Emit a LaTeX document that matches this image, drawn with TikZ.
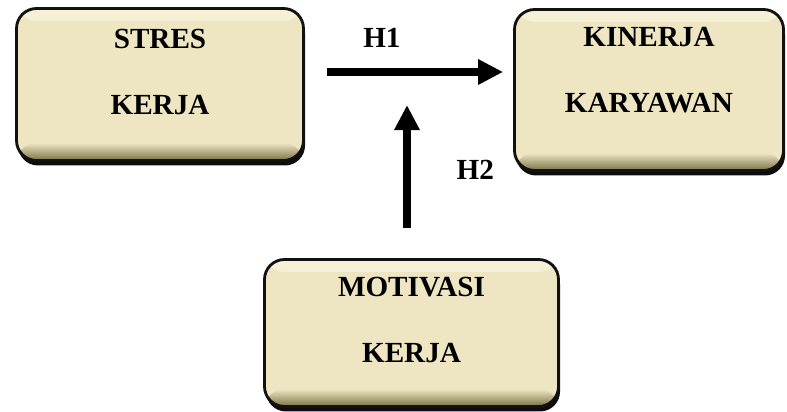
\documentclass[tikz,border=0pt]{standalone}
\usepackage{fontspec}
\setmainfont{Liberation Serif}
\usepackage{tikz}
\usepackage{xcolor}
\usetikzlibrary{arrows.meta, positioning, calc, shadows}
\definecolor{CardCream}{HTML}{EEE6C3}
\definecolor{CardLight}{HTML}{F6F0D6}
\definecolor{CardOlive}{HTML}{7A7244}
\definecolor{CardBlack}{HTML}{111111}
\tikzset{
    % Box styles - rounded, bevelled
    cardbox/.style={
        rectangle,
        rounded corners=0.4cm,
        draw=CardBlack,
        line width=1.6pt,
        fill=CardCream,
        align=center,
        text depth=0.52cm,
        font=\fontsize{16.6pt}{37.4pt}\selectfont\bfseries,
        drop shadow={shadow xshift=0.03cm, shadow yshift=-0.1cm, fill=black, opacity=0.95},
        path picture={
            \shade[top color=CardLight, bottom color=CardCream]
                (path picture bounding box.north west) rectangle
                ([yshift=-0.25cm]path picture bounding box.north east);
            \shade[top color=CardCream, bottom color=CardOlive]
                ([yshift=0.35cm]path picture bounding box.south west) rectangle
                (path picture bounding box.south east);
        }
    },
    % Arrow styles
    myarrow/.style={
        -{Triangle[length=0.5cm, width=0.48cm]},
        line width=0.15cm,
        black
    },
    hlabel/.style={
        font=\fontsize{16.6pt}{20pt}\selectfont\bfseries
    }
}

\begin{document}
\begin{tikzpicture}
    \useasboundingbox (0,0) rectangle (15.74,8.24);

    % Boxes
    \node[cardbox, minimum width=5.74cm, minimum height=3.04cm] (stres) at (3.2,6.55) {STRES\\KERJA};
    \node[cardbox, minimum width=5.38cm, minimum height=3.22cm, text depth=0.8cm] (kinerja) at (12.98,6.44) {KINERJA\\KARYAWAN};
    \node[cardbox, minimum width=5.88cm, minimum height=2.94cm] (motivasi) at (8.23,1.58) {MOTIVASI\\KERJA};

    % Free end of H2
    \coordinate (h2end) at ([xshift=-0.09cm, yshift=3.06cm]motivasi.north);

    % Hypotheses
    \draw[myarrow, shorten <=0.44cm, shorten >=0.2cm]
        ([yshift=0.25cm]stres.east) -- ([yshift=0.25cm]stres.east -| kinerja.west)
        node[hlabel, pos=0.37, above=0.3cm] (h1) {H1};
    \draw[myarrow, shorten <=0.6cm]
        ([xshift=-0.09cm]motivasi.north) -- (h2end)
        node[hlabel, pos=0.58, right=0.8cm] (h2) {H2};
\end{tikzpicture}
\end{document}
